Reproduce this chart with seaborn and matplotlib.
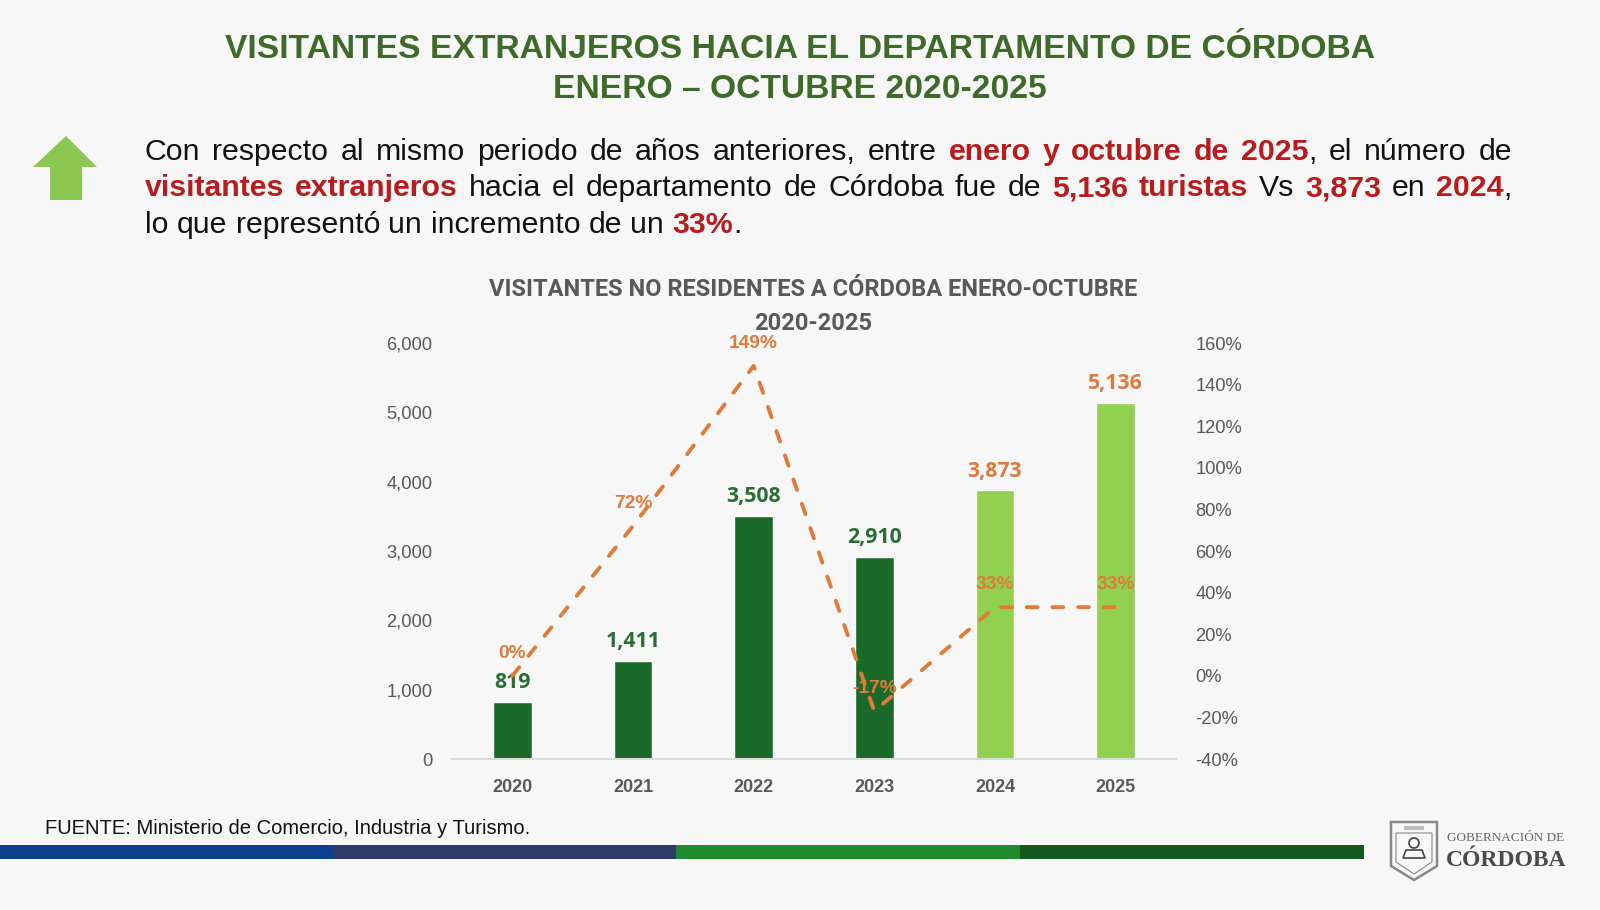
import matplotlib
matplotlib.use("Agg")
import numpy as np
import pandas as pd
import seaborn as sns
from matplotlib import pyplot as plt
from matplotlib.patches import Polygon, Rectangle, Circle
from matplotlib.ticker import FuncFormatter

years = ["2020", "2021", "2022", "2023", "2024", "2025"]
visitors = [819, 1411, 3508, 2910, 3873, 5136]
growth = [0, 72, 149, -17, 33, 33]
left_ticks = [0, 1000, 2000, 3000, 4000, 5000, 6000]
right_ticks = [-40, -20, 0, 20, 40, 60, 80, 100, 120, 140, 160]

title_lines = ["VISITANTES EXTRANJEROS HACIA EL DEPARTAMENTO DE CÓRDOBA",
               "ENERO – OCTUBRE 2020-2025"]
chart_title = ["VISITANTES NO RESIDENTES A CÓRDOBA ENERO-OCTUBRE", "2020-2025"]
source = "FUENTE: Ministerio de Comercio, Industria y Turismo."

# (text, highlighted) per line of the paragraph
para = [
    [("Con respecto al mismo periodo de años anteriores, entre", 0), ("enero y octubre de 2025", 1),
     (", el número de", 0)],
    [("visitantes extranjeros", 1), ("hacia el departamento de Córdoba fue de", 0), ("5,136 turistas", 1),
     ("Vs", 0), ("3,873", 1), ("en", 0), ("2024", 1), (",", 0)],
    [("lo que representó un incremento de un", 0), ("33%", 1), (".", 0)],
]

BG = "#f7f7f7"
DARK = "#1a6b2a"
LIGHT = "#92d050"
ORANGE = "#e07b3c"
GREY = "#595959"
RED = "#b91c1c"
TITLE_GREEN = "#3f6b2a"

sns.set_theme(style="white")
plt.rcParams["font.family"] = ["Liberation Sans", "DejaVu Sans"]

fig = plt.figure(figsize=(16, 9.1), dpi=100, facecolor=BG)

# page layer in pixel coordinates
page = fig.add_axes([0, 0, 1, 1], zorder=0)
page.set_xlim(0, 1600)
page.set_ylim(910, 0)
page.axis("off")

for y, line in zip([49, 90], title_lines):
    page.text(800, y, line, ha="center", va="center", fontsize=24.25, fontweight="bold", color=TITLE_GREEN)

page.add_patch(Polygon([(66, 136), (97, 167), (82, 167), (82, 200), (50, 200), (50, 167), (33, 167)],
                       closed=True, color="#8cc751", lw=0))

# paragraph, first two lines justified
renderer = fig.canvas.get_renderer()
PARA_SIZE = 21.8


def word_width(word, bold):
    t = page.text(0, 0, word, fontsize=PARA_SIZE, fontweight="bold" if bold else "normal")
    w = t.get_window_extent(renderer).width
    t.remove()
    return w


for i, (line, y) in enumerate(zip(para, [152.5, 188.5, 225])):
    words = []
    for chunk, bold in line:
        if chunk in (",", ".") or chunk.startswith(", "):
            first, *rest = chunk.split(" ")
            words.append((first, bold, True))
            words += [(w, bold, False) for w in rest]
        else:
            words += [(w, bold, False) for w in chunk.split(" ")]
    widths = [word_width(w, b) for w, b, _ in words]
    gaps = sum(1 for w in words[1:] if not w[2])
    space = word_width("n n", False) - 2 * word_width("n", False)
    if i < 2:
        space = (1512 - 145 - sum(widths)) / gaps
    x = 145
    for (w, bold, glued), width in zip(words, widths):
        if glued:
            x -= space
        page.text(x, y, w, va="center", ha="left", fontsize=PARA_SIZE,
                  fontweight="bold" if bold else "normal", color=RED if bold else "#111111")
        x += width + space

for y, line in zip([289.5, 323.5], chart_title):
    page.text(813, y, line, ha="center", va="center", fontsize=17, fontweight="bold",
              color=GREY, family="Roboto", stretch="condensed")

page.text(45, 828.5, source, va="center", fontsize=14.5, color="#111111")

for x0, x1, c in [(0, 333, "#0d3f8f"), (333, 676, "#2f3a68"), (676, 1020, "#1f8a2e"), (1020, 1364, "#15591f")]:
    page.add_patch(Rectangle((x0, 845), x1 - x0, 14, color=c, lw=0))

# crude shield for the logo
page.add_patch(Polygon([(1391, 822), (1437, 822), (1437, 866), (1414, 880), (1391, 866)],
                       closed=True, fc="none", ec="#888888", lw=1.8))
page.add_patch(Polygon([(1396, 833), (1432, 833), (1432, 862), (1414, 874), (1396, 862)],
                       closed=True, fc="none", ec="#888888", lw=0.8))
page.add_patch(Rectangle((1404, 826), 20, 4, fc="#bbbbbb", lw=0))
page.add_patch(Circle((1414, 843), 5, fc="none", ec="#444444", lw=1.2))
page.add_patch(Polygon([(1403, 858), (1406, 850), (1422, 850), (1425, 858)],
                       closed=True, fc="none", ec="#444444", lw=1.2))
page.text(1447, 838, "GOBERNACIÓN DE", va="center", fontsize=9.5, family="Liberation Serif", color="#666666")
page.text(1446, 860, "CÓRDOBA", va="center", fontsize=17, fontweight="bold",
          family="Liberation Serif", color="#4a4a4a")

# chart
ax = fig.add_axes([452 / 1600, 1 - 759 / 910, 724 / 1600, 416 / 910], zorder=1)
ax.patch.set_alpha(0)
df = pd.DataFrame({"year": years, "visitors": visitors, "growth": growth})
sns.barplot(data=df, x="year", y="visitors", hue="year", palette=[DARK] * 4 + [LIGHT] * 2,
            legend=False, width=0.32, saturation=1, ax=ax)
ax.set_ylim(0, 6000)
ax.set_xlim(-0.5, 5.5)
ax.set_yticks(left_ticks)
ax.yaxis.set_major_formatter(FuncFormatter(lambda v, _: f"{int(v):,}"))
ax.set_xlabel("")
ax.set_ylabel("")
ax.tick_params(axis="y", length=0, pad=14, labelsize=13.2, labelcolor=GREY)
ax.tick_params(axis="x", length=0, pad=14.5, labelsize=13, labelcolor=GREY)
for lab in ax.get_xticklabels():
    lab.set_fontweight("bold")
sns.despine(ax=ax, left=True)
ax.spines["bottom"].set_color("#d9d9d9")
ax.spines["bottom"].set_linewidth(1.5)

ax2 = ax.twinx()
ax2.patch.set_alpha(0)
sns.lineplot(x=np.arange(len(years)), y=growth, color=ORANGE, lw=2.8, ax=ax2,
             dashes=False, linestyle=(0, (2.8, 3.8)), dash_capstyle="round")
ax2.set_ylim(-40, 160)
ax2.set_yticks(right_ticks)
ax2.yaxis.set_major_formatter(FuncFormatter(lambda v, _: f"{int(v)}%"))
ax2.tick_params(axis="y", length=0, pad=14, labelsize=13.2, labelcolor=GREY)
ax2.grid(False)
ax2.set_ylabel("")
sns.despine(ax=ax2, left=True, right=True, bottom=True)

for i, (v, g) in enumerate(zip(visitors, growth)):
    ax.annotate(f"{v:,}", (i, v), xytext=(0, 14), textcoords="offset points", ha="center", va="center",
                fontsize=15.3, fontweight="bold", family="Open Sans", color=ORANGE if i > 3 else "#2a6e35")
    ax2.annotate(f"{g}%", (i, g), xytext=(0, 16.3), textcoords="offset points", ha="center", va="center",
                 fontsize=13.8, fontweight="bold", color=ORANGE)

fig.savefig("out.png", dpi=100, facecolor=BG)
